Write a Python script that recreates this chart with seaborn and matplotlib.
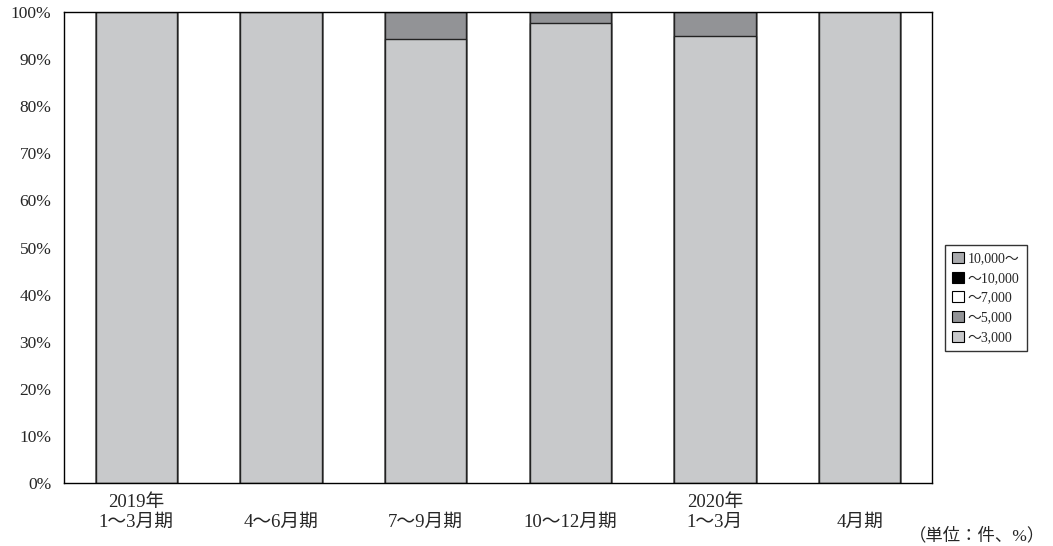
import seaborn as sns
import matplotlib.pyplot as plt
import matplotlib.patches as mpatches
import pandas as pd
import numpy as np

# data (shares in %)
periods = ["2019年\n1～3月期", "4～6月期", "7～9月期", "10～12月期", "2020年\n1～3月", "4月期"]
series_names = ["～3,000", "～5,000", "～7,000", "～10,000", "10,000～"]
s_3000 = [100.0, 100.0, 94.3, 97.7, 95.0, 100.0]
s_5000 = [0.0, 0.0, 5.7, 2.3, 5.0, 0.0]
s_7000 = [0.0, 0.0, 0.0, 0.0, 0.0, 0.0]
s_10000 = [0.0, 0.0, 0.0, 0.0, 0.0, 0.0]
s_over = [0.0, 0.0, 0.0, 0.0, 0.0, 0.0]
colors = ["#c8c9cb", "#929396", "#ffffff", "#000000", "#a9aaad"]

sns.set_style("white")
plt.rcParams["font.family"] = ["Liberation Serif", "Noto Sans CJK JP"]

layers = np.array([s_3000, s_5000, s_7000, s_10000, s_over])
cum = np.cumsum(layers, axis=0)

fig = plt.figure(figsize=(10.53, 5.46), dpi=100)
ax = fig.add_axes([64 / 1053, 1 - 483 / 546, (932 - 64) / 1053, (483 - 12) / 546])

# draw from top layer down so each lower layer overlays the cumulative bar
for i in range(len(series_names) - 1, -1, -1):
    df = pd.DataFrame({"period": periods, "value": cum[i]})
    sns.barplot(data=df, x="period", y="value", color=colors[i], saturation=1,
                width=0.56, edgecolor="#222222", linewidth=1.0, ax=ax)

ax.set_xlim(-0.5, len(periods) - 0.5)
ax.set_ylim(0, 100)
ax.set_yticks(np.arange(0, 101, 10))
ax.set_yticklabels([f"{v}%" for v in range(0, 101, 10)], fontsize=12.5)
ax.tick_params(axis="y", direction="in", length=14, width=1, color="black", pad=9)
# single-line labels sit on the lower line, like the reference
xlabels = [p if "\n" in p else "\n" + p for p in periods]
ax.set_xticks(range(len(periods)))
ax.set_xticklabels(xlabels, fontsize=13.5, linespacing=1.2)
ax.tick_params(axis="x", length=0, pad=8)
for lab in ax.get_xticklabels():
    lab.set_multialignment("center")
ax.set_xlabel("")
ax.set_ylabel("")
for s in ax.spines.values():
    s.set_color("black")
    s.set_linewidth(1.0)

handles = [mpatches.Patch(facecolor=colors[i], edgecolor="black", linewidth=0.8, label=series_names[i])
           for i in range(len(series_names) - 1, -1, -1)]
leg = fig.legend(handles=handles, loc="center left", bbox_to_anchor=(945 / 1053, 1 - 298 / 546),
                 fontsize=10, frameon=True, fancybox=False, handlelength=0.85, handleheight=0.85,
                 handletextpad=0.3, borderpad=0.5, labelspacing=0.45, borderaxespad=0)
leg.get_frame().set_edgecolor("black")
leg.get_frame().set_linewidth(1.0)

fig.text(1045 / 1053, 1 - 536 / 546, "（単位：件、%）", ha="right", va="center", fontsize=12.5)

plt.savefig("out.png", dpi=100)
plt.close()
